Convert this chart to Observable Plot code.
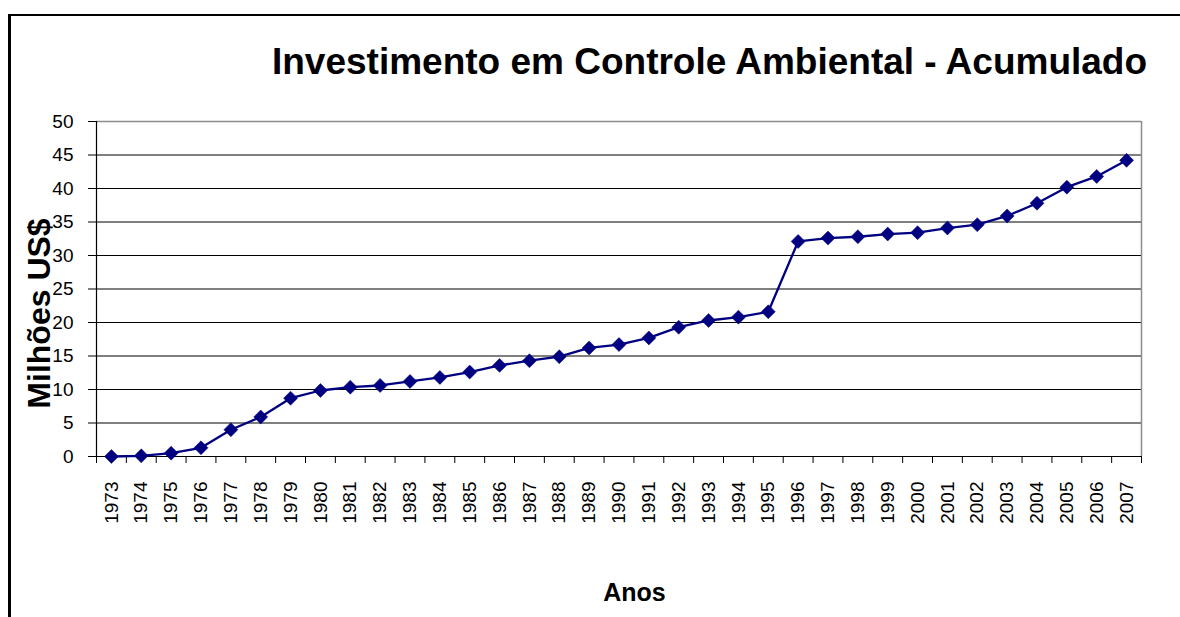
<!DOCTYPE html>
<html>
<head>
<meta charset="utf-8">
<script src="https://cdn.jsdelivr.net/npm/d3@7"></script>
<script src="https://cdn.jsdelivr.net/npm/@observablehq/plot@0.6"></script>
<style>
  html, body { margin: 0; padding: 0; background: #fff; }
  #wrap { position: relative; width: 1180px; height: 617px; overflow: hidden; }
  #border { position: absolute; left: 8px; top: 14px; width: 1200px; height: 700px;
            border-left: 3px solid #000; border-top: 2px solid #000; pointer-events: none; }
  svg { font-family: "Liberation Sans", Arial, sans-serif; }
</style>
</head>
<body>
<div id="wrap"><div id="border"></div></div>
<script>
const years = [1973,1974,1975,1976,1977,1978,1979,1980,1981,1982,1983,1984,1985,1986,1987,1988,1989,1990,
  1991,1992,1993,1994,1995,1996,1997,1998,1999,2000,2001,2002,2003,2004,2005,2006,2007];
const values = [0.0,0.1,0.5,1.3,4.0,5.9,8.7,9.85,10.35,10.6,11.2,11.8,12.6,13.6,14.3,14.9,16.2,16.7,
  17.7,19.3,20.3,20.8,21.6,32.1,32.6,32.8,33.2,33.4,34.1,34.6,35.9,37.8,40.2,41.8,44.2];
const yTicks = [0,5,10,15,20,25,30,35,40,45,50];
const title = "Investimento em Controle Ambiental - Acumulado";
const yLabel = "Milhões US$";
const xLabel = "Anos";

const data = years.map((y, i) => ({year: y, value: values[i]}));
const x0 = years[0] - 0.5, x1 = years[years.length - 1] + 0.5;
const boundaries = years.map(y => y - 0.5).concat([x1]);

const chart = Plot.plot({
  width: 1180,
  height: 617,
  marginLeft: 96,
  marginRight: 39,
  marginTop: 121,
  marginBottom: 161,
  style: {fontFamily: '"Liberation Sans", Arial, sans-serif', fontSize: "19px", color: "#000", background: "#fff"},
  x: {type: "linear", domain: [x0, x1]},
  y: {domain: [0, 50]},
  marks: [
    Plot.gridY(yTicks.filter(d => d > 0 && d < 50), {stroke: "#000", strokeOpacity: 1, strokeWidth: 1}),
    Plot.ruleY([50], {stroke: "#8c8c8c", strokeWidth: 1.5}),
    Plot.ruleX([x1], {stroke: "#8c8c8c", strokeWidth: 1.5}),
    Plot.ruleY([0], {stroke: "#000", strokeWidth: 1.2}),
    Plot.ruleX([x0], {stroke: "#000", strokeWidth: 1.2}),
    Plot.axisY(yTicks, {tickSize: 8, tickPadding: 15, fontSize: 19, label: null, stroke: "#000"}),
    Plot.axisX(boundaries, {tickSize: 7, tickFormat: () => "", label: null, stroke: "#000"}),
    Plot.axisX(years, {tickSize: 0, tickPadding: 25, tickRotate: -90, fontSize: 19, tickFormat: d => String(d), label: null}),
    Plot.line(data, {x: "year", y: "value", stroke: "#000080", strokeWidth: 2.3}),
    Plot.dot(data, {x: "year", y: "value", symbol: "diamond2", r: 6.3, fill: "#000080", stroke: "#000080", strokeWidth: 0.5}),
    Plot.text([title], {frameAnchor: "top", textAnchor: "middle", lineAnchor: "middle", dx: 90.5, dy: -59, fontSize: 37, fontWeight: "bold", fill: "#000"}),
    Plot.text([xLabel], {frameAnchor: "bottom", textAnchor: "middle", lineAnchor: "middle", dx: 15.5, dy: 136, fontSize: 25, fontWeight: "bold", fill: "#000"}),
    Plot.text([yLabel], {frameAnchor: "left", textAnchor: "middle", lineAnchor: "middle", dx: -56.5, dy: 24.5, rotate: -90, fontSize: 32, fontWeight: "bold", fill: "#000"})
  ]
});
// make sure axis tick labels use the larger font
chart.querySelectorAll('g[aria-label="y-axis tick label"], g[aria-label="x-axis tick label"]').forEach(g => {
  g.style.fontSize = "19px";
});
document.getElementById("wrap").insertBefore(chart, document.getElementById("border"));
</script>
</body>
</html>
